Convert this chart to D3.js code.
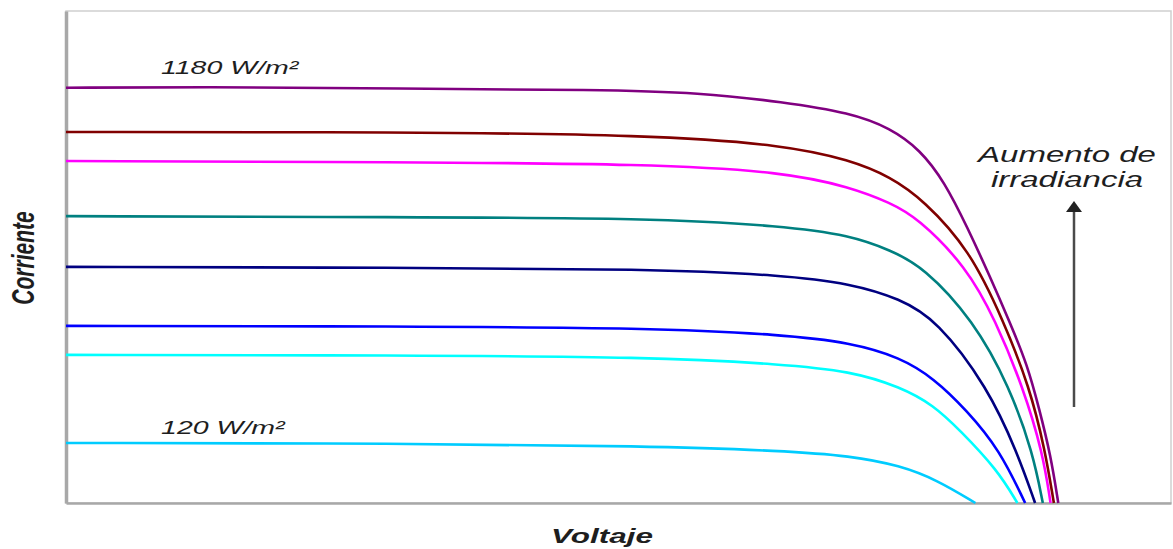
<!DOCTYPE html>
<html>
<head>
<meta charset="utf-8">
<script src="https://cdn.jsdelivr.net/npm/d3@7"></script>
<style>
    body { margin: 0; background: #fff; }
    svg { display: block; }
    .label { font-family: "Liberation Sans", Arial, sans-serif; font-style: italic; fill: #1e1e1e; }
    .title { font-weight: bold; }
</style>
</head>
<body>
<svg id="chart" width="1173" height="549"></svg>
<script>
// I-V curves, voltage and current in % of the plot range
const seriesNames = ['1180', '1000', '900', '700', '530', '330', '240', '120'];
const seriesColors = ['#800080', '#800000', '#ff00ff', '#008080', '#000080', '#0000ff', '#00ffff', '#00ccff'];

const curve1180 = [[0, 84.4], [12.1, 84.6], [30.2, 84.2], [48.3, 84.0], [57.4, 83.4], [64.9, 81.5], [71.0, 79.3], [74.6, 76.2], [77.3, 71.8], [79.5, 65.3], [81.6, 55.9], [83.6, 46.1], [85.4, 36.8], [87.0, 28.1], [88.1, 18.9], [89.1, 9.8], [89.8, 0]];
const curve1000 = [[0, 75.4], [30.2, 75.4], [52.9, 74.8], [64.9, 72.8], [71.0, 69.7], [74.6, 66.3], [77.6, 61.6], [81.8, 51.4], [84.8, 37.2], [87.2, 23.6], [88.6, 10.8], [89.4, 0]];
const curve900 = [[0, 69.5], [30.2, 69.3], [52.9, 68.9], [64.9, 67.3], [71.0, 64.2], [74.6, 61.0], [77.0, 58.1], [81.5, 48.0], [84.1, 37.2], [86.6, 23.6], [88.4, 10.2], [89.1, 0]];
const curve700 = [[0, 58.3], [30.2, 58.1], [52.9, 57.9], [64.9, 56.3], [71.0, 54.4], [74.6, 51.4], [77.6, 48.0], [82.1, 37.2], [85.4, 23.6], [87.5, 10.2], [88.4, 0]];
const curve530 = [[0, 48.0], [30.2, 47.8], [52.9, 47.6], [64.9, 46.3], [71.0, 44.6], [75.5, 41.5], [78.8, 37.2], [83.4, 23.6], [86.1, 10.2], [87.7, 0]];
const curve330 = [[0, 36.0], [30.2, 35.9], [52.9, 35.6], [64.9, 34.2], [71.0, 32.6], [75.5, 29.6], [78.5, 25.4], [81.5, 18.9], [84.5, 10.8], [86.8, 0]];
const curve240 = [[0, 30.1], [30.2, 30.0], [52.9, 29.7], [64.9, 28.2], [71.0, 26.8], [75.5, 23.6], [78.5, 19.9], [80.9, 14.8], [84.3, 6.7], [86.1, 0]];
const curve120 = [[0, 12.2], [30.2, 12.1], [52.9, 11.6], [64.9, 10.6], [71.0, 9.6], [75.5, 7.6], [78.8, 4.7], [82.3, 0]];

const curves = [curve1180, curve1000, curve900, curve700, curve530, curve330, curve240, curve120];

const margin = { top: 11, right: 2, bottom: 46, left: 66 };
const width = 1173, height = 549;

const svg = d3.select('#chart');

const x = d3.scaleLinear().domain([0, 100]).range([margin.left, width - margin.right]);
const y = d3.scaleLinear().domain([0, 100]).range([height - margin.bottom, margin.top]);

// Frame
svg.append('rect')
    .attr('x', x(0))
    .attr('y', y(100))
    .attr('width', x(100) - x(0))
    .attr('height', y(0) - y(100))
    .attr('fill', 'none')
    .attr('stroke', '#cfcfcf')
    .attr('stroke-width', 1.5);

// Axis lines (no ticks)
svg.append('g')
    .attr('transform', `translate(0,${y(0)})`)
    .call(d3.axisBottom(x).ticks(0).tickSizeOuter(0))
    .select('.domain')
    .attr('stroke', '#a8a8a8')
    .attr('stroke-width', 2.5);

svg.append('g')
    .attr('transform', `translate(${x(0)},0)`)
    .call(d3.axisLeft(y).ticks(0).tickSizeOuter(0))
    .select('.domain')
    .attr('stroke', '#a8a8a8')
    .attr('stroke-width', 3.5);

// Curves
const line = d3.line()
    .x(d => x(d[0]))
    .y(d => y(d[1]))
    .curve(d3.curveBasis);

svg.append('g')
    .selectAll('path')
    .data(curves)
    .join('path')
    .attr('d', line)
    .attr('fill', 'none')
    .attr('stroke', (d, i) => seriesColors[i])
    .attr('stroke-width', 2.6)
    .attr('stroke-linejoin', 'round');

// Curve labels
function stretchedText(tx, ty, text, size, anchor, extraClass) {
    svg.append('text')
        .attr('class', 'label' + (extraClass ? ' ' + extraClass : ''))
        .attr('transform', `translate(${tx},${ty}) scale(1.5,1)`)
        .attr('text-anchor', anchor)
        .attr('font-size', size)
        .text(text);
}

stretchedText(x(8.6), y(87.2), `${seriesNames[0]} W/m²`, 19, 'start');
stretchedText(x(8.6), y(14.0), `${seriesNames[7]} W/m²`, 19, 'start');

stretchedText(1067, 162, 'Aumento de', 22, 'middle');
stretchedText(1067, 187, 'irradiancia', 22, 'middle');

// Arrow
svg.append('line')
    .attr('x1', 1074).attr('y1', 407)
    .attr('x2', 1074).attr('y2', 211)
    .attr('stroke', '#4a4a4a')
    .attr('stroke-width', 2.5);

svg.append('path')
    .attr('d', 'M1074,201 L1082,212 L1066,212 Z')
    .attr('fill', '#222');

// Axis titles
stretchedText(602, 543, 'Voltaje', 21, 'middle', 'title');

svg.append('text')
    .attr('class', 'label title')
    .attr('transform', 'translate(23,258) scale(1.45,1) rotate(-90)')
    .attr('text-anchor', 'middle')
    .attr('dy', '0.35em')
    .attr('font-size', 21)
    .text('Corriente');
</script>
</body>
</html>
